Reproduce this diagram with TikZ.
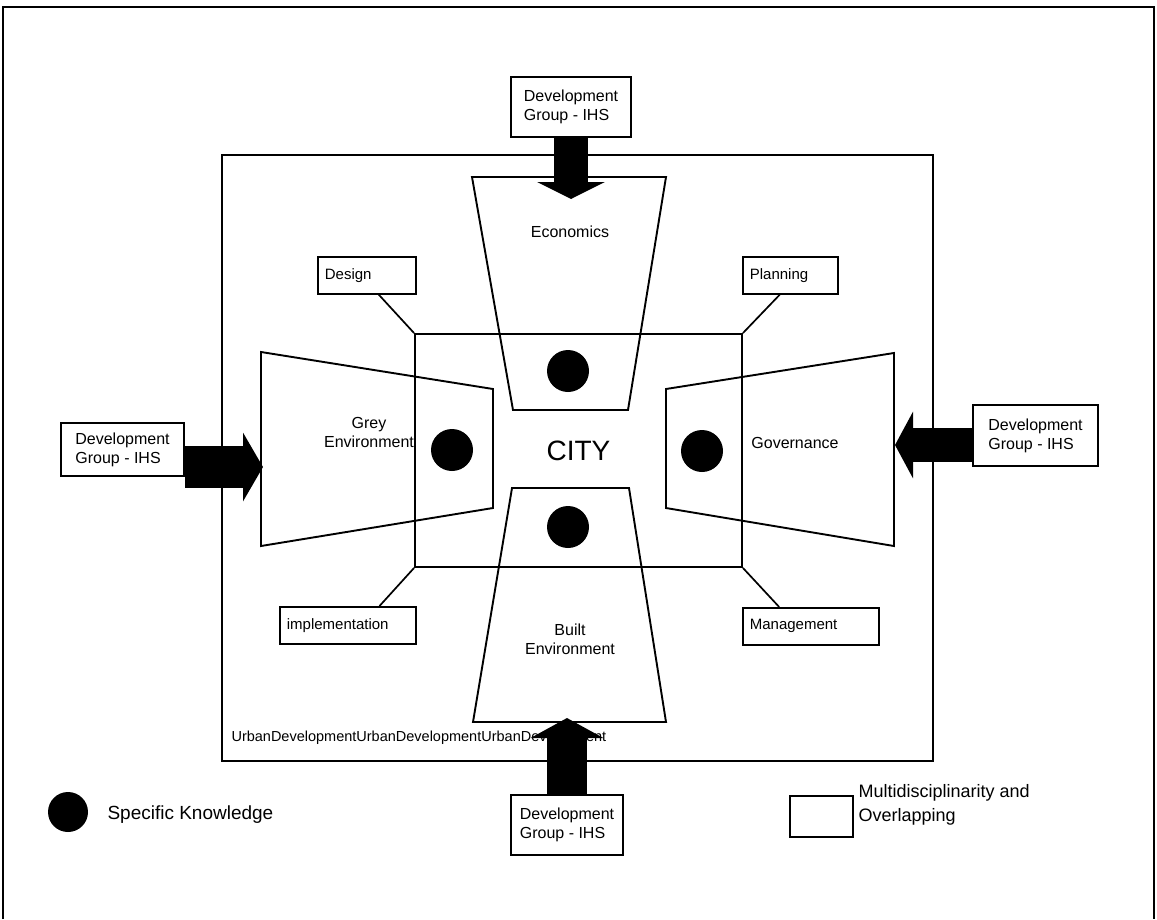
\documentclass[tikz,border=0pt]{standalone}
\usepackage{fontspec}
\setmainfont{Liberation Sans}
\usetikzlibrary{arrows.meta,calc}
\begin{document}
\begin{tikzpicture}[x=1pt,y=-1pt,
  frame/.style={line width=2pt},
  field/.style={draw, line width=1.9pt},
  tag/.style={draw, line width=1.7pt, rectangle, inner xsep=7pt, inner ysep=0pt,
    align=left, anchor=north west, font=\fontsize{15}{18}\selectfont},
  group/.style={draw, line width=1.7pt, rectangle, fill=white, inner xsep=8pt,
    align=left, font=\fontsize{16}{19}\selectfont},
  knowledge/.style={circle, fill=black, minimum size=42pt, inner sep=0pt},
  label/.style={font=\fontsize{16}{19}\selectfont, align=center},
  inflow/.style={line cap=butt}
]
\useasboundingbox (0,0) rectangle (1157,919);

% page frame
\draw[frame] (3,919) -- (3,7) -- (1154,7) -- (1154,919);

% urban development area
\node[draw, line width=2.6pt, minimum width=711pt, minimum height=606pt, inner sep=0pt]
  (urban) at (577.5,458) {};
\node[anchor=west, font=\fontsize{14.5}{17}\selectfont] (urbantext) at (228,738)
  {UrbanDevelopmentUrbanDevelopmentUrbanDevelopment};

% city core
\node[draw, line width=1.9pt, minimum width=327pt, minimum height=233pt, inner sep=0pt,
  font=\fontsize{28}{32}\selectfont] (city) at (578.5,450.5) {CITY};

% disciplines
\draw[field] (472,177) -- (666,177) -- (628,410) -- (513,410) -- cycle;
\draw[field] (512,488) -- (629,488) -- (666,722) -- (473,722) -- cycle;
\draw[field] (261,352) -- (493,389) -- (493,508) -- (261,546) -- cycle;
\draw[field] (666,389) -- (894,353) -- (894,546) -- (666,508) -- cycle;

\node[label] (eco) at (570,232) {Economics};
\node[label] (built) at (570,639) {Built\\Environment};
\node[label] (grey) at (369,432) {Grey\\Environment};
\node[label] (gov) at (795,443) {Governance};

\node[knowledge] (kEco) at (568,371) {};
\node[knowledge] (kGrey) at (452,450) {};
\node[knowledge] (kGov) at (702,451) {};
\node[knowledge] (kBuilt) at (568,527) {};

% corner tags
\node[tag, text width=84pt, minimum height=37pt] (design) at (317,256) {Design};
\node[tag, text width=81pt, minimum height=37pt] (planning) at (742,256) {Planning};
\node[tag, text width=122pt, minimum height=37pt] (impl) at (279,606) {implementation};
\node[tag, text width=122pt, minimum height=37pt] (mgmt) at (742,607) {Management};

\draw[line width=1.7pt] ($(design.south west)!0.62!(design.south east)$) -- (city.north west);
\draw[line width=1.7pt] ($(planning.south west)!0.39!(planning.south east)$) -- (city.north east);
\draw[line width=1.7pt] ($(impl.north west)!0.73!(impl.north east)$) -- (city.south west);
\draw[line width=1.7pt] ($(mgmt.north west)!0.27!(mgmt.north east)$) -- (city.south east);

% development groups
\node[group, minimum width=120pt, minimum height=60pt] (gTop) at (571,107)
  {Development\\Group - IHS};
\node[group, minimum width=123pt, minimum height=53pt] (gLeft) at (122.5,449.5)
  {Development\\Group - IHS};
\node[group, minimum width=125pt, minimum height=61pt] (gRight) at (1035.5,435.5)
  {Development\\Group - IHS};
\node[group, minimum width=112pt, minimum height=60pt] (gBottom) at (567,825)
  {Development\\Group - IHS};

\coordinate (tipTop) at (571,199);
\coordinate (tipLeft) at (263,467);
\coordinate (tipRight) at (895,445);
\coordinate (tipBottom) at (567,718);

\draw[inflow, line width=34pt, -{Triangle[width=67pt,length=17pt]}] (gTop.south) -- (tipTop);
\draw[inflow, line width=42pt, -{Triangle[width=68pt,length=20pt]}] (gLeft.east |- tipLeft) -- (tipLeft);
\draw[inflow, line width=34pt, -{Triangle[width=66pt,length=18pt]}] (gRight.west |- tipRight) -- (tipRight);
\draw[inflow, line width=40pt, -{Triangle[width=72pt,length=20pt]}] (gBottom.north) -- (tipBottom);

% legend
\node[knowledge, minimum size=40pt] (legK) at (68,812) {};
\node[anchor=west, font=\fontsize{19}{22}\selectfont] (legKtext) at (104,815) {Specific Knowledge};
\node[draw, line width=1.7pt, minimum width=63pt, minimum height=41pt, inner sep=0pt]
  (legM) at (821.5,816.5) {};
\node[anchor=west, align=left, font=\fontsize{18}{24}\selectfont] (legMtext) at (855,805)
  {Multidisciplinarity and\\Overlapping};
\end{tikzpicture}
\end{document}
